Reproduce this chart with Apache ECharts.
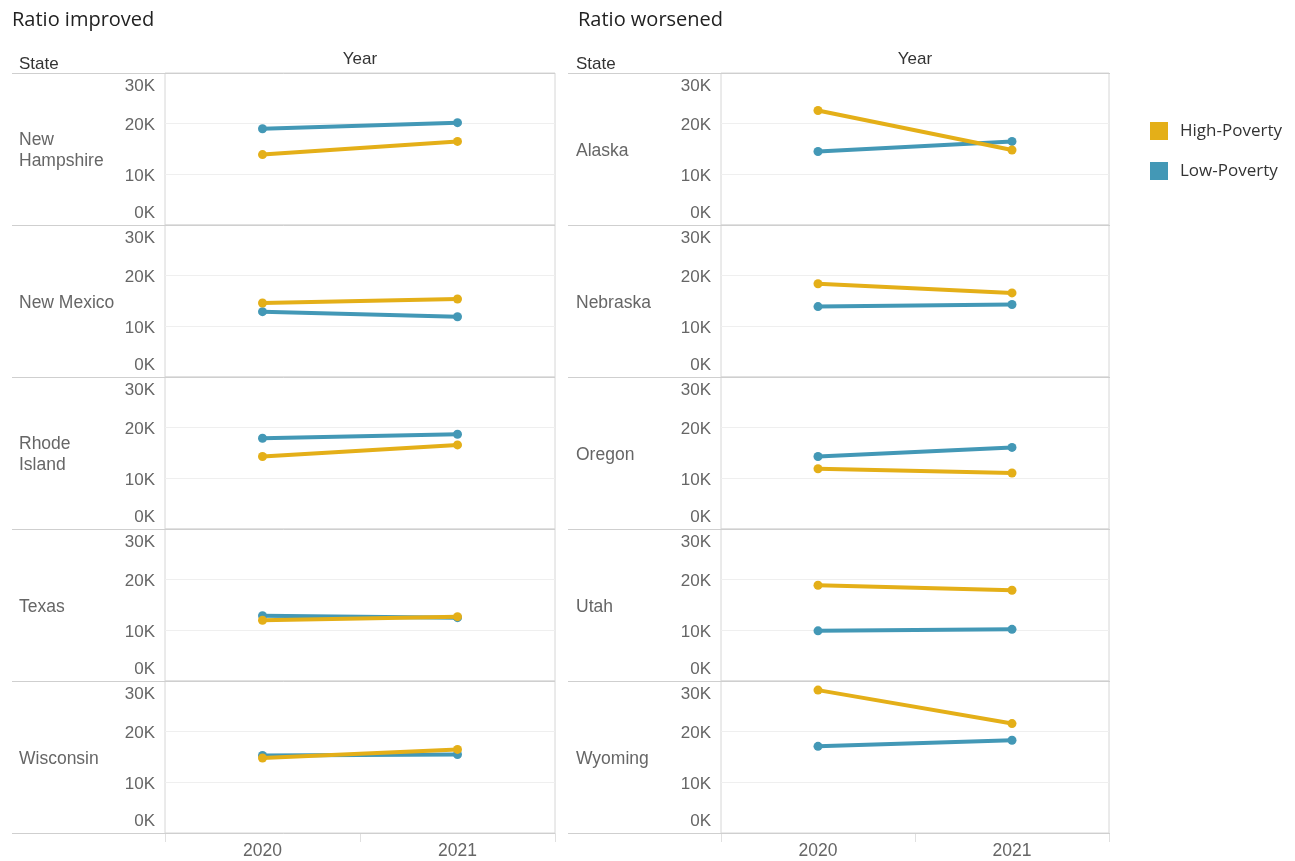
<!DOCTYPE html>
<html>
<head>
<meta charset="utf-8">
<script src="https://cdn.jsdelivr.net/npm/echarts@6/dist/echarts.min.js"></script>
<style>
html,body{margin:0;padding:0;background:#fff;}
#chart{width:1295px;height:861px;}
</style>
</head>
<body>
<div id="chart"></div>
<script>
// ---- data ----
const years = ['2020', '2021'];
const seriesNames = ['High-Poverty', 'Low-Poverty'];
const panelTitles = ['Ratio improved', 'Ratio worsened'];
const improvedStates = ['New Hampshire', 'New Mexico', 'Rhode Island', 'Texas', 'Wisconsin'];
const worsenedStates = ['Alaska', 'Nebraska', 'Oregon', 'Utah', 'Wyoming'];
const improvedHigh = [[13900, 16500], [14600, 15400], [14300, 16600], [12000, 12700], [14800, 16500]];
const improvedLow  = [[19000, 20200], [12900, 11900], [17900, 18700], [12900, 12500], [15300, 15500]];
const worsenedHigh = [[22600, 14800], [18400, 16600], [11900, 11050], [18900, 17900], [28200, 21600]];
const worsenedLow  = [[14500, 16500], [13900, 14300], [14300, 16100], [9900, 10200], [17100, 18300]];
const yMin = 0, yMax = 30000, yStep = 10000;

// ---- layout / style ----
const COLORS = {'High-Poverty': '#E4AF18', 'Low-Poverty': '#4398B6'};
const ARIAL = '"Liberation Sans", Arial, sans-serif';
const TITLEFONT = '"Open Sans", "Noto Sans", sans-serif';
const wrapLabel = {'New Hampshire': 'New\nHampshire', 'Rhode Island': 'Rhode\nIsland'};
const ROW_TOP = 73, ROW_H = 152;
const panels = [
  {title: panelTitles[0], titleX: 12, states: improvedStates, high: improvedHigh, low: improvedLow,
   left: 165, width: 390, lineL: 12, lineR: 555, labelX: 19},
  {title: panelTitles[1], titleX: 578, states: worsenedStates, high: worsenedHigh, low: worsenedLow,
   left: 721, width: 388, lineL: 568, lineR: 1110, labelX: 576}
];
const labelStyle = {fontSize: 17, color: '#666', fontFamily: ARIAL};

const grid = [], xAxis = [], yAxis = [], series = [], graphic = [];
let k = 0;
panels.forEach(p => {
  graphic.push({type: 'text', left: p.titleX, top: 10, style: {text: p.title, font: '20px ' + TITLEFONT, fill: '#222'}});
  graphic.push({type: 'text', x: p.labelX, y: 64, style: {text: 'State', font: '17px ' + ARIAL, fill: '#333', verticalAlign: 'middle'}});
  graphic.push({type: 'text', x: p.left + p.width / 2, y: 59, style: {text: 'Year', font: '17px ' + ARIAL, fill: '#333', align: 'center', verticalAlign: 'middle'}});
  for (let r = 0; r <= 5; r++) {
    const y = ROW_TOP + ROW_H * r + 0.5;
    graphic.push({type: 'line', z: 50, shape: {x1: p.lineL, y1: y, x2: p.lineR, y2: y}, style: {stroke: '#cfcfcf', lineWidth: 1}});
  }
  p.states.forEach((st, i) => {
    const top = ROW_TOP + ROW_H * i;
    const last = i === p.states.length - 1;
    graphic.push({type: 'text', x: p.labelX, y: top + ROW_H / 2 + 2,
      style: {text: wrapLabel[st] || st, font: '17.5px ' + ARIAL, fill: '#666', verticalAlign: 'middle', lineHeight: 21}});
    grid.push({left: p.left, top: top, width: p.width, height: ROW_H, show: true, borderColor: '#d6d6d6', borderWidth: 1, containLabel: false});
    xAxis.push({gridIndex: k, type: 'category', data: years, boundaryGap: true,
      axisLine: {show: false},
      axisTick: {show: last, length: 9, lineStyle: {color: '#e0e0e0'}},
      axisLabel: {show: last, fontSize: 17.5, color: '#666', margin: 9, fontFamily: ARIAL},
      splitLine: {show: false}});
    yAxis.push({gridIndex: k, type: 'value', min: yMin, max: yMax, interval: yStep,
      axisLine: {show: false}, axisTick: {show: false},
      splitLine: {show: true, lineStyle: {color: '#efefef', width: 1}},
      axisLabel: Object.assign({}, labelStyle, {margin: 10,
        formatter: v => {
          const t = (v / 1000) + 'K';
          if (v === yMax) return '{mx|' + t + '}';
          if (v === yMin) return '{mn|' + t + '}';
          return '{md|' + t + '}';
        },
        rich: {
          mx: Object.assign({}, labelStyle, {padding: [5, 0, 0, 0]}),
          mn: Object.assign({}, labelStyle, {padding: [0, 0, 3, 0]}),
          md: Object.assign({}, labelStyle, {padding: [3, 0, 0, 0]})
        },
        verticalAlignMaxLabel: 'top', verticalAlignMinLabel: 'bottom'})});
    [['Low-Poverty', p.low[i], 2], ['High-Poverty', p.high[i], 3]].forEach(([name, vals, z]) => {
      series.push({name: name, type: 'line', xAxisIndex: k, yAxisIndex: k, data: vals, z: z,
        symbol: 'circle', symbolSize: 9, showSymbol: true,
        lineStyle: {width: 4, color: COLORS[name]},
        itemStyle: {color: COLORS[name]}});
    });
    k++;
  });
});

const chart = echarts.init(document.getElementById('chart'), null, {renderer: 'canvas'});
chart.setOption({
  animation: false,
  backgroundColor: '#fff',
  legend: {data: seriesNames, orient: 'vertical', left: 1150, top: 122, padding: 0, icon: 'rect',
    itemWidth: 18, itemHeight: 18, itemGap: 22,
    textStyle: {fontSize: 17, color: '#333', fontFamily: TITLEFONT, padding: [0, 0, 0, 7]}},
  grid, xAxis, yAxis, series, graphic
});
</script>
</body>
</html>
